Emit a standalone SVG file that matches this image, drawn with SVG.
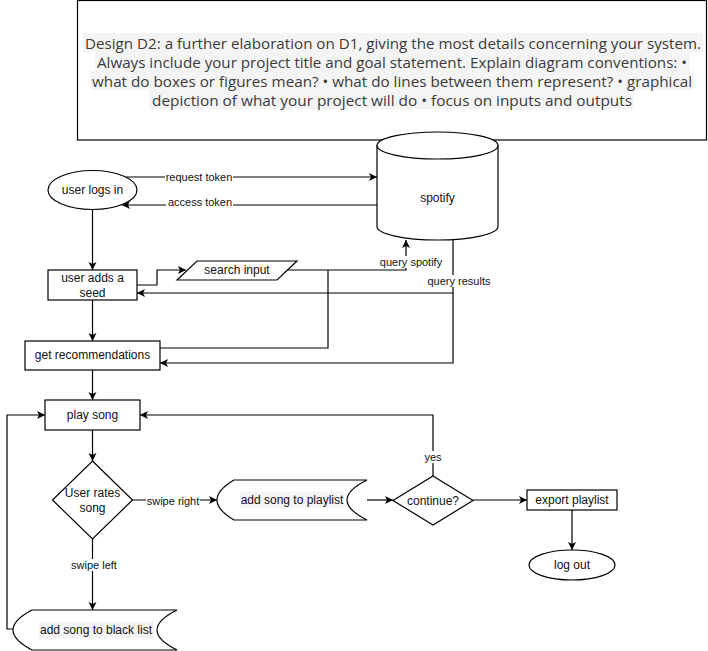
<svg xmlns="http://www.w3.org/2000/svg" width="708" height="651" viewBox="0 0 708 651">
<defs>
<marker id="arr" markerUnits="userSpaceOnUse" markerWidth="10" markerHeight="10" refX="8" refY="4" orient="auto">
<path d="M0,0 L8,4 L0,8 L2,4 Z" fill="#000"/>
</marker>
<style>
.shape{fill:#fff;stroke:#000;stroke-width:1.2}
.edge{fill:none;stroke:#000;stroke-width:1.2}
.arrow{marker-end:url(#arr)}
.nt{font-family:"Liberation Sans",Arial,sans-serif;font-size:12px;fill:#111;text-anchor:middle}
.lt{font-family:"Liberation Sans",Arial,sans-serif;font-size:11px;fill:#111;text-anchor:middle}
.lbg{fill:#fff}
.tt{font-family:"Open Sans","Noto Sans",sans-serif;font-size:15px;fill:#3a3a3a;text-anchor:middle}
.hl{fill:#f4f4f4}
</style>
</defs>

<g id="title">
<rect class="shape" x="77.5" y="0.5" width="629" height="139.5"/>
<rect class="hl" x="83" y="33" width="620" height="19"/>
<rect class="hl" x="95" y="52" width="595" height="19"/>
<rect class="hl" x="90" y="71" width="604" height="19"/>
<rect class="hl" x="149" y="90" width="485" height="19"/>
<text class="tt" x="393" y="49" textLength="616" lengthAdjust="spacingAndGlyphs">Design D2: a further elaboration on D1, giving the most details concerning your system.</text>
<text class="tt" x="392" y="68" textLength="590" lengthAdjust="spacingAndGlyphs">Always include your project title and goal statement. Explain diagram conventions: •</text>
<text class="tt" x="392" y="87" textLength="600" lengthAdjust="spacingAndGlyphs">what do boxes or figures mean? • what do lines between them represent? • graphical</text>
<text class="tt" x="392" y="106" textLength="480" lengthAdjust="spacingAndGlyphs">depiction of what your project will do • focus on inputs and outputs</text>
</g>

<g id="spotify">
<path class="shape" d="M377,145.5 A60.5,13.5 0 0 1 498,145.5 V226.5 A60.5,13.5 0 0 1 377,226.5 Z"/>
<path class="edge" d="M377,145.5 A60.5,13.5 0 0 0 498,145.5"/>
<text class="nt" x="437.5" y="202">spotify</text>
</g>

<g id="connectors">
<path class="edge arrow" d="M125.5,177 H377"/>
<path class="edge arrow" d="M377,205 H122"/>
<path class="edge arrow" d="M92.5,210 V270"/>
<path class="edge arrow" d="M137,285 H157 V270 H186"/>
<path class="edge arrow" d="M287,270 H406 V240"/>
<path class="edge" d="M160,348 H328 V270"/>
<path class="edge arrow" d="M453,240 V293 H137"/>
<path class="edge arrow" d="M453,293 V363 H160"/>
<path class="edge arrow" d="M92.5,300 V341"/>
<path class="edge arrow" d="M92.5,370 V400"/>
<path class="edge arrow" d="M92.5,430 V461"/>
<path class="edge arrow" d="M132.5,500 H217"/>
<path class="edge arrow" d="M92.5,539 V610"/>
<path class="edge arrow" d="M13,629 H7 V415 H45"/>
<path class="edge arrow" d="M367,500 H393"/>
<path class="edge arrow" d="M433,476 V415 H140"/>
<path class="edge arrow" d="M473,500 H527"/>
<path class="edge arrow" d="M572,510 V550"/>

<rect class="lbg" x="165" y="171" width="68" height="12"/>
<text class="lt" x="199" y="181">request token</text>
<rect class="lbg" x="166" y="196" width="67" height="12"/>
<text class="lt" x="200" y="206">access token</text>
<rect class="lbg" x="379" y="256" width="65" height="12"/>
<text class="lt" x="411" y="266">query spotify</text>
<rect class="lbg" x="426" y="275" width="66" height="12"/>
<text class="lt" x="459" y="285">query results</text>
<rect class="lbg" x="146" y="495" width="54" height="12"/>
<text class="lt" x="173" y="505">swipe right</text>
<rect class="lbg" x="70" y="559" width="48" height="12"/>
<text class="lt" x="94" y="569">swipe left</text>
<rect class="lbg" x="424" y="451" width="19" height="12"/>
<text class="lt" x="433" y="461">yes</text>
</g>

<g id="user-logs-in">
<ellipse class="shape" cx="92.5" cy="190" rx="44.5" ry="19.5"/>
<text class="nt" x="92.5" y="194">user logs in</text>
</g>

<g id="user-adds-seed">
<rect class="shape" x="48" y="270" width="89" height="30"/>
<text class="nt" x="92.5" y="282">user adds a</text>
<text class="nt" x="92.5" y="297">seed</text>
</g>

<g id="search-input">
<path class="shape" d="M177,280 L197,261 H297 L277,280 Z"/>
<text class="nt" x="237" y="274">search input</text>
</g>

<g id="get-recommendations">
<rect class="shape" x="25" y="341" width="135" height="29"/>
<text class="nt" x="92.5" y="359">get recommendations</text>
</g>

<g id="play-song">
<rect class="shape" x="45" y="400" width="95" height="30"/>
<text class="nt" x="92.5" y="419">play song</text>
</g>

<g id="user-rates-song">
<path class="shape" d="M92.5,461 L132.5,500 L92.5,539 L52.5,500 Z"/>
<text class="nt" x="92.5" y="497">User rates</text>
<text class="nt" x="92.5" y="512">song</text>
</g>

<g id="add-to-playlist">
<path class="shape" d="M234,480 H367 Q327,500 367,520 H234 Q200,500 234,480 Z"/>
<rect class="hl" x="240" y="492" width="104" height="16" fill="#f8f8f8"/>
<text class="nt" x="292" y="504">add song to playlist</text>
</g>

<g id="continue">
<path class="shape" d="M433,476 L473,500.5 L433,525 L393,500.5 Z"/>
<text class="nt" x="433" y="504.5">continue?</text>
</g>

<g id="export-playlist">
<rect class="shape" x="527" y="490" width="90" height="20"/>
<text class="nt" x="572" y="504">export playlist</text>
</g>

<g id="log-out">
<ellipse class="shape" cx="572" cy="565" rx="43" ry="15"/>
<text class="nt" x="572" y="569">log out</text>
</g>

<g id="add-to-blacklist">
<path class="shape" d="M32,610 H177 Q137,630 177,650 H32 Q-6,630 32,610 Z"/>
<rect class="hl" x="39" y="622" width="115" height="16" fill="#f8f8f8"/>
<text class="nt" x="96" y="634">add song to black list</text>
</g>
</svg>
